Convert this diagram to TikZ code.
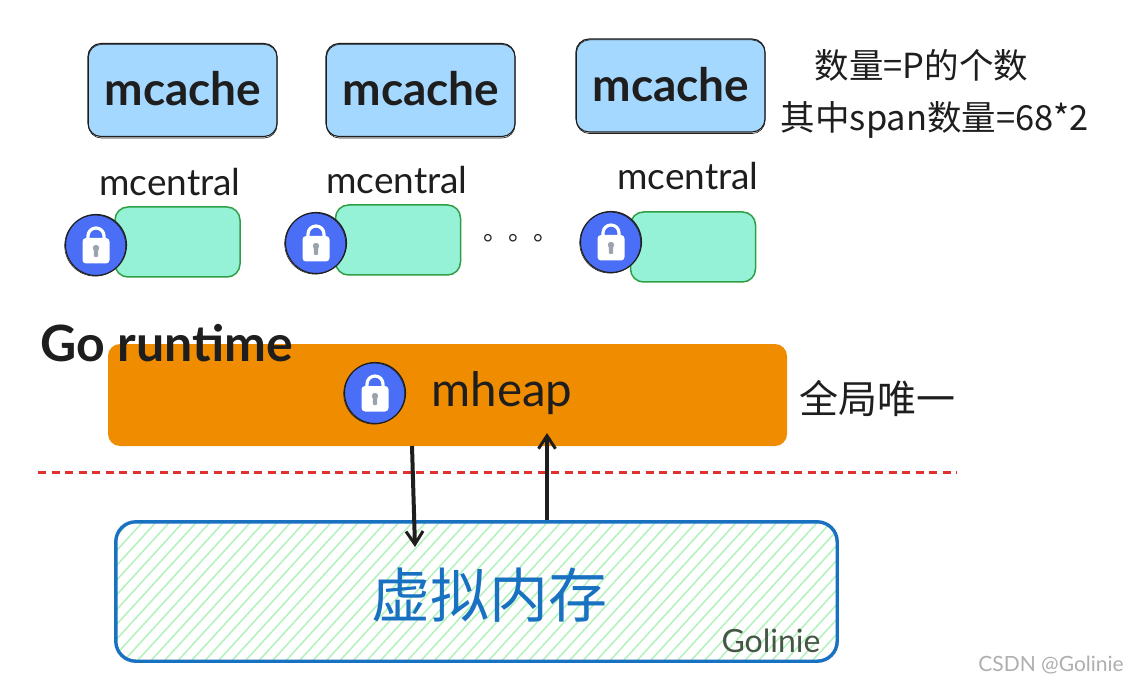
\documentclass[tikz,border=0pt]{standalone}
\usepackage{fontspec}
\usetikzlibrary{arrows.meta}
\setmainfont{Lato}
\newfontfamily\cjk{Noto Sans CJK SC}
\definecolor{ink}{HTML}{1E1E1E}
\definecolor{cachefill}{HTML}{A5D8FF}
\definecolor{centralfill}{HTML}{96F2D7}
\definecolor{centralline}{HTML}{2F9E44}
\definecolor{lockblue}{HTML}{4A6EF5}
\definecolor{heapfill}{HTML}{F08C00}
\definecolor{dashred}{HTML}{E03131}
\definecolor{vmblue}{HTML}{1971C2}
\definecolor{hatch}{HTML}{B2F2BB}
\definecolor{keyhole}{HTML}{9AA3AE}
\tikzset{
  cachebox/.style={draw=ink,line width=1.1pt,fill=cachefill,rounded corners=13,minimum width=189,minimum height=93,inner sep=0},
  centralbox/.style={draw=centralline,line width=1.5pt,fill=centralfill,rounded corners=13,minimum width=125,minimum height=70,inner sep=0},
  lockdisc/.style={circle,draw=ink,line width=1.1pt,fill=lockblue,minimum size=61,inner sep=0},
  heapbox/.style={fill=heapfill,rounded corners=12,minimum width=679,minimum height=102,inner sep=0},
  vmbox/.style={rounded corners=20,minimum width=721,minimum height=139,inner sep=0},
  cachetext/.style={font=\bfseries\fontsize{46}{46}\selectfont,text=ink,inner sep=0},
  centraltext/.style={font=\fontsize{37}{37}\selectfont,text=ink,inner sep=0},
  notetext/.style={font=\cjk\fontsize{34.5}{34.5}\selectfont,text=ink,inner sep=0},
  flow/.style={draw=ink,line width=4pt,-{Straight Barb[length=13pt,width=17pt,line width=3pt]}},
  resketch/.style={ink,line width=.6pt,rounded corners=13},
  pics/lock/.style={code={
    \draw[white,line width=3.2pt] (-8,-6) -- (-8,-9) arc[start angle=180,end angle=360,radius=8] -- (8,-6);
    \fill[white,rounded corners=3.5] (-13.5,-7) rectangle (13.5,18.5);
    \fill[keyhole] (0,3) circle (3.2);
    \fill[keyhole,rounded corners=1] (-2.2,3) rectangle (2.2,12);
  }}
}
\begin{document}
\begin{tikzpicture}[x=1pt,y=-1pt]
\useasboundingbox (0,0) rectangle (1129,684);
\fill[white] (0,0) rectangle (1129,684);

% mcache boxes
\node[cachebox] (c1) at (182.5,90) {};
\node[cachebox] (c2) at (420.5,90) {};
\node[cachebox] (c3) at (670.5,85.5) {};
\foreach \b in {c1,c2,c3}
  \draw[resketch] ([shift={(1,1.5)}]\b.north west) rectangle ([shift={(-.5,1)}]\b.south east);
\node[cachetext] (t1) at (183,89) {mcache};
\node[cachetext] (t2) at (421,89) {mcache};
\node[cachetext] (t3) at (671,85) {mcache};

% notes
\node[notetext] (n1) at (921.5,65) {数量=P的个数};
\node[notetext] (n2) at (935,120) {其中span数量=68*2};

% mcentral
\node[centraltext] (l1) at (170,182) {mcentral};
\node[centraltext] (l2) at (397,180) {mcentral};
\node[centraltext] (l3) at (688,176) {mcentral};
\node[centralbox] (b1) at (177.5,242) {};
\node[centralbox] (b2) at (398,240) {};
\node[centralbox] (b3) at (693,247) {};
\node[lockdisc] (d1) at (96,245) {};
\node[lockdisc] (d2) at (316,243) {};
\node[lockdisc] (d3) at (611,242) {};
\node[font=\cjk\fontsize{25}{25}\selectfont,text=ink,inner sep=0] (dots) at (521,238) {。。。};

% mheap
\node[heapbox] (heap) at (447.5,395) {};
\node[lockdisc] (d4) at (375,393) {};
\foreach \d in {d1,d2,d3,d4}{
  \draw[ink,line width=.6pt] ([shift={(-.8,.6)}]\d.center) circle (30.5);
  \pic at (\d.center) {lock};
}
\node[font=\fontsize{47.5}{47.5}\selectfont,text=ink,inner sep=0] (ht) at (502,393) {mheap};
\node[font=\bfseries\fontsize{50}{50}\selectfont,text=ink,inner sep=0] (go) at (167,343) {Go runtime};
\node[font=\cjk\fontsize{39}{39}\selectfont,text=ink,inner sep=0] (only) at (877.5,398) {全局唯一};

% boundary
\coordinate (ra) at (38,472);
\coordinate (rb) at (957,472);
\draw[dashred,line width=3pt,dash pattern=on 8pt off 5.5pt] (ra) -- (rb);

% virtual memory
\node[vmbox] (vm) at (476.5,591.5) {};
\begin{scope}
  \clip[rounded corners=20] (vm.north west) rectangle (vm.south east);
  \foreach \i in {0,...,66}{
    \draw[hatch,line width=1.5pt] (116+13.5*\i-150,671) -- ++(160,-175);
  }
\end{scope}
\draw[vmblue,line width=3.4pt,rounded corners=20] (vm.north west) rectangle (vm.south east);
\node[font=\cjk\fontsize{59}{59}\selectfont,text=vmblue,inner sep=0] (vt) at (489.5,595) {虚拟内存};
\node[font=\fontsize{32}{32}\selectfont,text={rgb,255:red,70;green,85;blue,70},inner sep=0] (wm) at (771,641) {Golinie};
\node[font=\fontsize{21}{21}\selectfont,text={rgb,255:red,175;green,175;blue,175},inner sep=0] (csdn) at (1051,665) {CSDN @Golinie};

% connectors
\coordinate (downstart) at (412,446);
\coordinate (downend) at (415,547);
\coordinate (upstart) at (547,520);
\coordinate (upend) at (547,433);
\draw[flow] (downstart) -- (downend);
\draw[flow] (upstart) -- (upend);
\end{tikzpicture}
\end{document}
